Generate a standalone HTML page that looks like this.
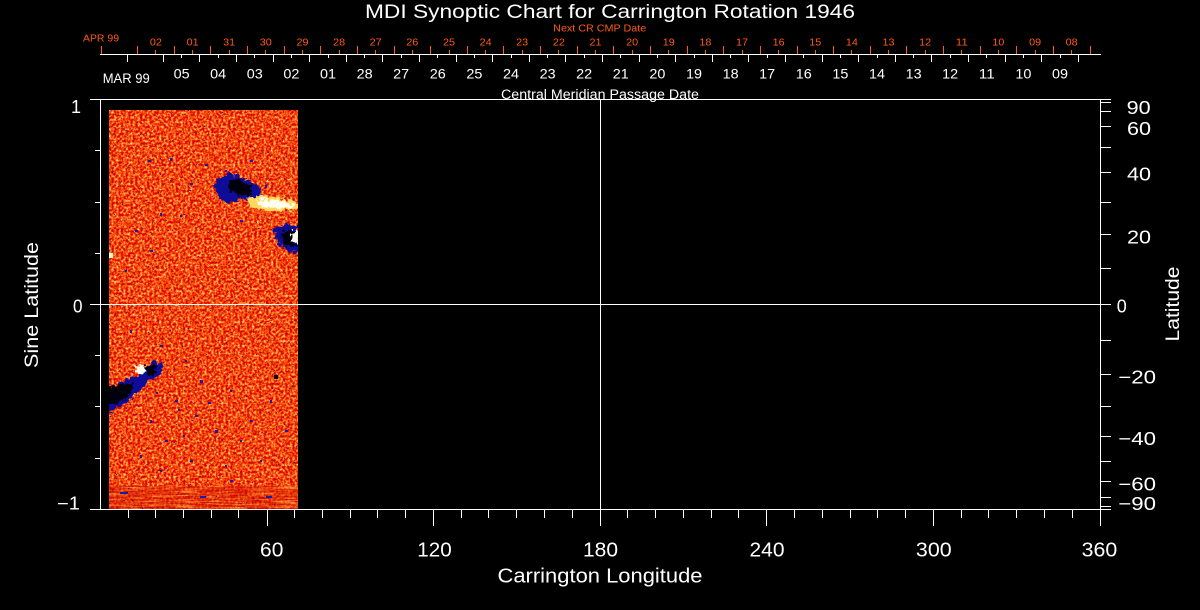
<!DOCTYPE html>
<html>
<head>
<meta charset="utf-8">
<style>
  html, body { margin: 0; padding: 0; background: #000; }
  body { width: 1200px; height: 610px; overflow: hidden; }
  svg { display: block; }
  text { font-family: "Liberation Sans", "DejaVu Sans", sans-serif; fill: #fff; }
  .r { fill: #ff5a14; }
</style>
</head>
<body>
<svg xmlns="http://www.w3.org/2000/svg" width="1200" height="610" viewBox="0 0 1200 610">
  <defs>
    <filter id="noise" x="0" y="0" width="1" height="1" color-interpolation-filters="sRGB">
      <feTurbulence type="fractalNoise" baseFrequency="0.42" numOctaves="2" seed="4"/>
      <feColorMatrix type="matrix" values="0.5 0 0 0 0.7  1.8 0 0 0 -0.62  1.2 0 0 0 -0.56  0 0 0 0 1"/>
    </filter>
    <filter id="streak" x="0" y="0" width="1" height="1" color-interpolation-filters="sRGB">
      <feTurbulence type="fractalNoise" baseFrequency="0.04 0.7" numOctaves="2" seed="9"/>
      <feColorMatrix type="matrix" values="0.5 0 0 0 0.62  1.8 0 0 0 -0.72  1.0 0 0 0 -0.5  0 0 0 0 1"/>
    </filter>
    <filter id="specks" x="0" y="0" width="1" height="1" color-interpolation-filters="sRGB">
      <feTurbulence type="fractalNoise" baseFrequency="0.5" numOctaves="1" seed="7"/>
      <feColorMatrix type="matrix" values="0 0 0 0 0.08  0 0 0 0 0.08  0 0 0 0 0.62  -30 0 0 0 8.4"/>
    </filter>
    <filter id="wspecks" x="0" y="0" width="1" height="1" color-interpolation-filters="sRGB">
      <feTurbulence type="fractalNoise" baseFrequency="0.55" numOctaves="1" seed="21"/>
      <feColorMatrix type="matrix" values="0 0 0 0 1  0 0 0 0 0.95  0 0 0 0 0.6  30 0 0 0 -21.6"/>
    </filter>
    <filter id="rag" x="-20%" y="-20%" width="140%" height="140%">
      <feTurbulence type="fractalNoise" baseFrequency="0.25" numOctaves="2" seed="3" result="t"/>
      <feDisplacementMap in="SourceGraphic" in2="t" scale="9" xChannelSelector="R" yChannelSelector="G"/>
    </filter>
    <clipPath id="img"><rect x="109" y="110" width="189" height="399"/></clipPath>
  </defs>

  <rect width="1200" height="610" fill="#000"/>

  <!-- Data image -->
  <g clip-path="url(#img)">
    <rect x="109" y="110" width="189" height="399" fill="#ec5a1c"/>
    <rect x="109" y="110" width="189" height="399" filter="url(#noise)"/>
    <rect x="109" y="486" width="189" height="23" filter="url(#streak)" opacity="0.6"/>
    <rect x="109" y="110" width="189" height="399" filter="url(#specks)" opacity="0.9"/>
    <rect x="109" y="110" width="189" height="200" filter="url(#wspecks)" opacity="0.8"/>

    <g filter="url(#rag)">
      <!-- North blob A -->
      <path d="M214,186 L218,178 L232,173 L245,179 L258,185 L263,195 L252,200 L240,198 L228,204 L218,197 Z" fill="#10109a"/>
      <path d="M228,181 L240,179 L252,188 L250,196 L238,195 L230,192 Z" fill="#000008"/>
      <!-- White patch -->
      <path d="M247,198 L262,195 L281,199 L297,202 L297,210 L280,211 L262,210 L250,207 Z" fill="#ffd860"/>
      <path d="M256,200 L270,199 L282,202 L294,204 L294,208 L276,208 L260,207 Z" fill="#fffff0"/>
      <!-- North blob B -->
      <path d="M273,229 L286,223 L299,225 L299,253 L288,251 L277,243 Z" fill="#10109a"/>
      <path d="M280,232 L292,230 L295,246 L285,247 Z" fill="#000008"/>
      <rect x="292" y="232" width="7" height="11" fill="#fffff0"/>
      <!-- South blob -->
      <path d="M106,396 L118,384 L128,378 L138,376 L146,366 L156,361 L163,366 L158,377 L148,381 L140,389 L132,399 L122,405 L112,411 L106,411 Z" fill="#10109a"/>
      <path d="M106,389 L122,384 L134,384 L128,396 L116,404 L106,405 Z" fill="#000008"/>
      <path d="M146,366 L156,364 L157,374 L148,376 Z" fill="#000008"/>
      <ellipse cx="140" cy="370" rx="6" ry="5" fill="#fffff0"/>
    </g>
    <rect x="274" y="375" width="4" height="4" fill="#000"/>
    <rect x="109" y="253" width="4" height="5" fill="#fff8d0"/>

    <!-- hand-placed specks -->
    <g fill="#1a1aa8">
      <rect x="148" y="160" width="3" height="2"/><rect x="170" y="158" width="2" height="3"/>
      <rect x="205" y="164" width="3" height="2"/><rect x="225" y="170" width="2" height="2"/>
      <rect x="190" y="183" width="3" height="2"/><rect x="160" y="213" width="2" height="3"/>
      <rect x="135" y="230" width="3" height="2"/><rect x="125" y="270" width="2" height="2"/>
      <rect x="250" y="160" width="3" height="2"/><rect x="265" y="185" width="2" height="3"/>
      <rect x="240" y="220" width="3" height="2"/><rect x="180" y="215" width="2" height="2"/>
      <rect x="150" y="250" width="3" height="2"/><rect x="130" y="330" width="2" height="3"/>
      <rect x="160" y="345" width="3" height="2"/><rect x="185" y="360" width="2" height="2"/>
      <rect x="200" y="380" width="3" height="3"/><rect x="230" y="390" width="2" height="2"/>
      <rect x="175" y="400" width="3" height="2"/><rect x="150" y="420" width="2" height="3"/>
      <rect x="195" y="415" width="3" height="2"/><rect x="215" y="430" width="3" height="3"/>
      <rect x="240" y="440" width="2" height="2"/><rect x="165" y="440" width="3" height="2"/>
      <rect x="140" y="455" width="2" height="3"/><rect x="190" y="460" width="3" height="2"/>
      <rect x="225" y="465" width="2" height="2"/><rect x="250" y="420" width="3" height="2"/>
      <rect x="270" y="400" width="2" height="3"/><rect x="285" y="430" width="3" height="2"/>
      <rect x="120" y="492" width="8" height="2"/><rect x="200" y="496" width="6" height="2"/>
      <rect x="160" y="470" width="2" height="2"/><rect x="230" y="480" width="3" height="2"/>
      <rect x="260" y="460" width="2" height="2"/><rect x="178" y="409" width="2" height="2"/>
      <rect x="208" y="402" width="3" height="2"/><rect x="156" y="392" width="2" height="2"/>
      <rect x="266" y="496" width="6" height="2"/><rect x="183" y="435" width="2" height="2"/>
    </g>
  </g>

  <g stroke="#fff" stroke-width="1" shape-rendering="crispEdges" fill="none">
    <line x1="90" y1="99.5" x2="1111" y2="99.5"/>
    <line x1="90" y1="509.5" x2="1111" y2="509.5"/>
    <line x1="100.5" y1="99.5" x2="100.5" y2="509.5"/>
    <line x1="1100.5" y1="99.5" x2="1100.5" y2="526"/>
    <line x1="90" y1="304.5" x2="1111" y2="304.5"/>
    <line x1="600.5" y1="99.5" x2="600.5" y2="526"/>
    <path d="M95,150.5H100 M95,202.5H100 M95,253.5H100 M95,355.5H100 M95,406.5H100 M95,458.5H100"/>
    <path d="M1100,102.5H1111 M1100,111.5H1111 M1100,126.5H1111 M1100,147.5H1111 M1100,172.5H1111 M1100,202.5H1111 M1100,234.5H1111 M1100,268.5H1111 M1100,340.5H1111 M1100,374.5H1111 M1100,406.5H1111 M1100,436.5H1111 M1100,461.5H1111 M1100,481.5H1111 M1100,497.5H1111 M1100,506.5H1111"/>
    <path d="M267.5,509V526 M433.5,509V526 M766.5,509V526 M933.5,509V526"/>
    <path d="M128.5,509V518 M155.5,509V518 M183.5,509V518 M211.5,509V518 M238.5,509V518 M294.5,509V518 M322.5,509V518 M350.5,509V518 M377.5,509V518 M405.5,509V518 M461.5,509V518 M488.5,509V518 M516.5,509V518 M544.5,509V518 M572.5,509V518 M627.5,509V518 M655.5,509V518 M683.5,509V518 M711.5,509V518 M738.5,509V518 M794.5,509V518 M822.5,509V518 M850.5,509V518 M877.5,509V518 M905.5,509V518 M961.5,509V518 M988.5,509V518 M1016.5,509V518 M1044.5,509V518 M1072.5,509V518"/>
    <line x1="100" y1="54.5" x2="1101" y2="54.5"/>
    <path d="M127.5,54V62 M163.5,54V62 M199.5,54V62 M236.5,54V62 M273.5,54V62 M309.5,54V62 M346.5,54V62 M382.5,54V62 M419.5,54V62 M456.5,54V62 M492.5,54V62 M529.5,54V62 M565.5,54V62 M602.5,54V62 M639.5,54V62 M675.5,54V62 M712.5,54V62 M748.5,54V62 M785.5,54V62 M822.5,54V62 M858.5,54V62 M895.5,54V62 M931.5,54V62 M968.5,54V62 M1005.5,54V62 M1041.5,54V62 M1078.5,54V62"/>
    <path d="M181.5,54V58 M218.5,54V58 M254.5,54V58 M291.5,54V58 M328.5,54V58 M364.5,54V58 M401.5,54V58 M437.5,54V58 M474.5,54V58 M511.5,54V58 M547.5,54V58 M584.5,54V58 M620.5,54V58 M657.5,54V58 M694.5,54V58 M730.5,54V58 M767.5,54V58 M803.5,54V58 M840.5,54V58 M877.5,54V58 M913.5,54V58 M950.5,54V58 M986.5,54V58 M1023.5,54V58 M1060.5,54V58"/>
  </g>
  <g stroke="#ff5a14" stroke-width="1" shape-rendering="crispEdges" fill="none">
    <path d="M101.5,46V54 M137.5,46V54 M174.5,46V54 M210.5,46V54 M247.5,46V54 M284.5,46V54 M320.5,46V54 M357.5,46V54 M394.5,46V54 M430.5,46V54 M467.5,46V54 M503.5,46V54 M540.5,46V54 M577.5,46V54 M613.5,46V54 M650.5,46V54 M687.5,46V54 M723.5,46V54 M760.5,46V54 M797.5,46V54 M833.5,46V54 M870.5,46V54 M906.5,46V54 M943.5,46V54 M980.5,46V54 M1016.5,46V54 M1053.5,46V54 M1090.5,46V54"/>
    <path d="M155.5,50V54 M192.5,50V54 M229.5,50V54 M265.5,50V54 M302.5,50V54 M339.5,50V54 M375.5,50V54 M412.5,50V54 M449.5,50V54 M485.5,50V54 M522.5,50V54 M558.5,50V54 M595.5,50V54 M632.5,50V54 M668.5,50V54 M705.5,50V54 M742.5,50V54 M778.5,50V54 M815.5,50V54 M851.5,50V54 M888.5,50V54 M925.5,50V54 M961.5,50V54 M998.5,50V54 M1035.5,50V54 M1071.5,50V54"/>
  </g>

  <text x="610" y="18" font-size="19.5" text-anchor="middle" textLength="490" lengthAdjust="spacingAndGlyphs">MDI Synoptic Chart for Carrington Rotation 1946</text>
  <text class="r" x="599.7" y="31.5" font-size="10.5" text-anchor="middle" textLength="93" lengthAdjust="spacingAndGlyphs">Next CR CMP Date</text>
  <text class="r" x="83" y="41.5" font-size="10.5" textLength="36" lengthAdjust="spacingAndGlyphs">APR 99</text>

  <g font-size="10.5" text-anchor="middle">
    <text class="r" x="155.9" y="45.5" textLength="12" lengthAdjust="spacingAndGlyphs">02</text>
    <text class="r" x="192.6" y="45.5" textLength="12" lengthAdjust="spacingAndGlyphs">01</text>
    <text class="r" x="229.2" y="45.5" textLength="12" lengthAdjust="spacingAndGlyphs">31</text>
    <text class="r" x="265.8" y="45.5" textLength="12" lengthAdjust="spacingAndGlyphs">30</text>
    <text class="r" x="302.5" y="45.5" textLength="12" lengthAdjust="spacingAndGlyphs">29</text>
    <text class="r" x="339.1" y="45.5" textLength="12" lengthAdjust="spacingAndGlyphs">28</text>
    <text class="r" x="375.7" y="45.5" textLength="12" lengthAdjust="spacingAndGlyphs">27</text>
    <text class="r" x="412.3" y="45.5" textLength="12" lengthAdjust="spacingAndGlyphs">26</text>
    <text class="r" x="449.0" y="45.5" textLength="12" lengthAdjust="spacingAndGlyphs">25</text>
    <text class="r" x="485.6" y="45.5" textLength="12" lengthAdjust="spacingAndGlyphs">24</text>
    <text class="r" x="522.2" y="45.5" textLength="12" lengthAdjust="spacingAndGlyphs">23</text>
    <text class="r" x="558.9" y="45.5" textLength="12" lengthAdjust="spacingAndGlyphs">22</text>
    <text class="r" x="595.5" y="45.5" textLength="12" lengthAdjust="spacingAndGlyphs">21</text>
    <text class="r" x="632.1" y="45.5" textLength="12" lengthAdjust="spacingAndGlyphs">20</text>
    <text class="r" x="668.8" y="45.5" textLength="12" lengthAdjust="spacingAndGlyphs">19</text>
    <text class="r" x="705.4" y="45.5" textLength="12" lengthAdjust="spacingAndGlyphs">18</text>
    <text class="r" x="742.0" y="45.5" textLength="12" lengthAdjust="spacingAndGlyphs">17</text>
    <text class="r" x="778.6" y="45.5" textLength="12" lengthAdjust="spacingAndGlyphs">16</text>
    <text class="r" x="815.3" y="45.5" textLength="12" lengthAdjust="spacingAndGlyphs">15</text>
    <text class="r" x="851.9" y="45.5" textLength="12" lengthAdjust="spacingAndGlyphs">14</text>
    <text class="r" x="888.5" y="45.5" textLength="12" lengthAdjust="spacingAndGlyphs">13</text>
    <text class="r" x="925.2" y="45.5" textLength="12" lengthAdjust="spacingAndGlyphs">12</text>
    <text class="r" x="961.8" y="45.5" textLength="12" lengthAdjust="spacingAndGlyphs">11</text>
    <text class="r" x="998.4" y="45.5" textLength="12" lengthAdjust="spacingAndGlyphs">10</text>
    <text class="r" x="1035.1" y="45.5" textLength="12" lengthAdjust="spacingAndGlyphs">09</text>
    <text class="r" x="1071.7" y="45.5" textLength="12" lengthAdjust="spacingAndGlyphs">08</text>
  </g>

  <text x="102.7" y="83" font-size="13.5" textLength="47" lengthAdjust="spacingAndGlyphs">MAR 99</text>
  <g font-size="13.5" text-anchor="middle">
    <text x="181.6" y="78.3" textLength="16" lengthAdjust="spacingAndGlyphs">05</text>
    <text x="218.2" y="78.3" textLength="16" lengthAdjust="spacingAndGlyphs">04</text>
    <text x="254.8" y="78.3" textLength="16" lengthAdjust="spacingAndGlyphs">03</text>
    <text x="291.4" y="78.3" textLength="16" lengthAdjust="spacingAndGlyphs">02</text>
    <text x="328.0" y="78.3" textLength="16" lengthAdjust="spacingAndGlyphs">01</text>
    <text x="364.6" y="78.3" textLength="16" lengthAdjust="spacingAndGlyphs">28</text>
    <text x="401.2" y="78.3" textLength="16" lengthAdjust="spacingAndGlyphs">27</text>
    <text x="437.8" y="78.3" textLength="16" lengthAdjust="spacingAndGlyphs">26</text>
    <text x="474.4" y="78.3" textLength="16" lengthAdjust="spacingAndGlyphs">25</text>
    <text x="511.0" y="78.3" textLength="16" lengthAdjust="spacingAndGlyphs">24</text>
    <text x="547.6" y="78.3" textLength="16" lengthAdjust="spacingAndGlyphs">23</text>
    <text x="584.2" y="78.3" textLength="16" lengthAdjust="spacingAndGlyphs">22</text>
    <text x="620.8" y="78.3" textLength="16" lengthAdjust="spacingAndGlyphs">21</text>
    <text x="657.4" y="78.3" textLength="16" lengthAdjust="spacingAndGlyphs">20</text>
    <text x="694.0" y="78.3" textLength="16" lengthAdjust="spacingAndGlyphs">19</text>
    <text x="730.6" y="78.3" textLength="16" lengthAdjust="spacingAndGlyphs">18</text>
    <text x="767.2" y="78.3" textLength="16" lengthAdjust="spacingAndGlyphs">17</text>
    <text x="803.8" y="78.3" textLength="16" lengthAdjust="spacingAndGlyphs">16</text>
    <text x="840.4" y="78.3" textLength="16" lengthAdjust="spacingAndGlyphs">15</text>
    <text x="877.0" y="78.3" textLength="16" lengthAdjust="spacingAndGlyphs">14</text>
    <text x="913.6" y="78.3" textLength="16" lengthAdjust="spacingAndGlyphs">13</text>
    <text x="950.2" y="78.3" textLength="16" lengthAdjust="spacingAndGlyphs">12</text>
    <text x="986.8" y="78.3" textLength="16" lengthAdjust="spacingAndGlyphs">11</text>
    <text x="1023.4" y="78.3" textLength="16" lengthAdjust="spacingAndGlyphs">10</text>
    <text x="1060.0" y="78.3" textLength="16" lengthAdjust="spacingAndGlyphs">09</text>
  </g>
  <text x="600" y="99" font-size="13.5" text-anchor="middle" textLength="198" lengthAdjust="spacingAndGlyphs">Central Meridian Passage Date</text>

  <text x="81" y="113" font-size="18" text-anchor="end">1</text>
  <text x="73" y="312.3" font-size="18" textLength="9.5" lengthAdjust="spacingAndGlyphs">0</text>
  <text x="57" y="509.3" font-size="18" textLength="23" lengthAdjust="spacingAndGlyphs">−1</text>
  <text transform="translate(38,305) rotate(-90)" font-size="19.5" text-anchor="middle" textLength="126" lengthAdjust="spacingAndGlyphs">Sine Latitude</text>

  <g font-size="18.5">
    <text x="1126.7" y="114" textLength="24" lengthAdjust="spacingAndGlyphs">90</text>
    <text x="1127" y="135" textLength="24" lengthAdjust="spacingAndGlyphs">60</text>
    <text x="1127" y="180.7" textLength="24" lengthAdjust="spacingAndGlyphs">40</text>
    <text x="1127" y="243.3" textLength="24" lengthAdjust="spacingAndGlyphs">20</text>
    <text x="1116.7" y="312.7" textLength="10" lengthAdjust="spacingAndGlyphs">0</text>
    <text x="1118.3" y="383.3" textLength="37.7" lengthAdjust="spacingAndGlyphs">−20</text>
    <text x="1118.3" y="445" textLength="37.7" lengthAdjust="spacingAndGlyphs">−40</text>
    <text x="1118.3" y="490.7" textLength="37.7" lengthAdjust="spacingAndGlyphs">−60</text>
    <text x="1118.3" y="510" textLength="37.7" lengthAdjust="spacingAndGlyphs">−90</text>
  </g>
  <text transform="translate(1179,304) rotate(-90)" font-size="19.5" text-anchor="middle" textLength="75" lengthAdjust="spacingAndGlyphs">Latitude</text>

  <g font-size="20.5" text-anchor="middle">
    <text x="271.7" y="556.5" textLength="23.3" lengthAdjust="spacingAndGlyphs">60</text>
    <text x="434.5" y="556.5" textLength="34.4" lengthAdjust="spacingAndGlyphs">120</text>
    <text x="600.5" y="556.5" textLength="35" lengthAdjust="spacingAndGlyphs">180</text>
    <text x="767" y="556.5" textLength="35" lengthAdjust="spacingAndGlyphs">240</text>
    <text x="933.8" y="556.5" textLength="35.7" lengthAdjust="spacingAndGlyphs">300</text>
    <text x="1099.5" y="556.5" textLength="35.6" lengthAdjust="spacingAndGlyphs">360</text>
  </g>
  <text x="600" y="582.3" font-size="20" text-anchor="middle" textLength="205" lengthAdjust="spacingAndGlyphs">Carrington Longitude</text>
</svg>
</body>
</html>
